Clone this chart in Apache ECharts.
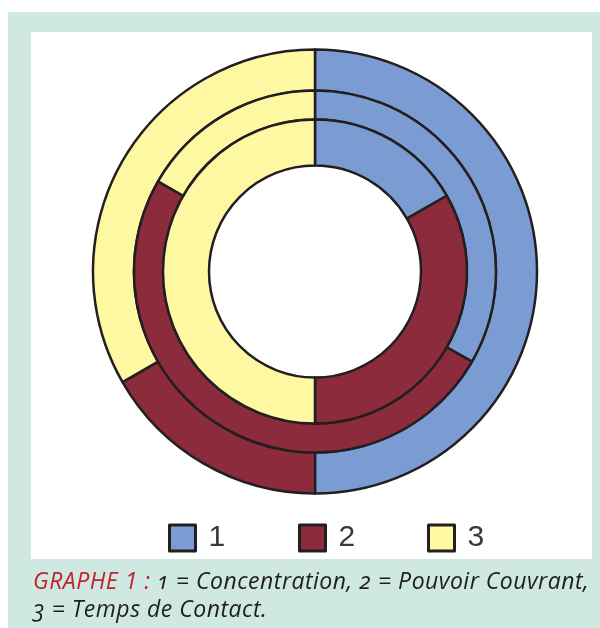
<!DOCTYPE html>
<html>
<head>
<meta charset="utf-8">
<script src="https://cdn.jsdelivr.net/npm/echarts@6/dist/echarts.min.js"></script>
<style>
  html, body { margin:0; padding:0; width:600px; height:628px; background:#ffffff; overflow:hidden; }
  #frame { position:absolute; left:8px; top:12px; width:592px; height:616px; background:#cfe9e2; }
  #panel { position:absolute; left:31px; top:32px; width:561px; height:527px; background:#ffffff; }
  #chart { position:absolute; left:0; top:0; width:600px; height:628px; }
  #caption { position:absolute; left:33px; top:566px; width:565px; font-family:"Open Sans", "Noto Sans", sans-serif; font-style:italic; font-weight:500; font-size:23px; letter-spacing:0.5px; line-height:28px; color:#1e1e1e; white-space:nowrap; font-variant-numeric: oldstyle-nums; }
  #caption .red { color:#c0232c; font-variant-numeric: normal; }
</style>
</head>
<body>
<div id="frame"></div>
<div id="panel"></div>
<div id="chart"></div>
<div id="caption"><span class="red">GRAPHE 1 :</span> 1 = Concentration, 2 = Pouvoir Couvrant,<br>3 = Temps de Contact.</div>
<script>
// Data
var categories = ['1', '2', '3'];
var ringNames = ['Concentration ring (outer)', 'Pouvoir Couvrant ring (middle)', 'Temps de Contact ring (inner)'];
var outerValues = [50, 16.7, 33.3];
var middleValues = [33.3, 50, 16.7];
var innerValues = [16.7, 33.3, 50];

var colors = ['#7b9bd3', '#8c2b3c', '#fff8a3'];
var center = [315, 271.5];
var radii = [[181, 222], [152, 181], [106, 152]];
var values = [outerValues, middleValues, innerValues];

var chart = echarts.init(document.getElementById('chart'), null, { renderer: 'canvas' });

var series = values.map(function (vals, i) {
  return {
    type: 'pie',
    name: ringNames[i],
    center: center,
    radius: radii[i],
    startAngle: 90,
    clockwise: true,
    silent: true,
    animation: false,
    label: { show: false },
    labelLine: { show: false },
    itemStyle: { borderColor: '#231f20', borderWidth: 2.5 },
    data: vals.map(function (v, j) {
      return { name: categories[j], value: v, itemStyle: { color: colors[j] } };
    })
  };
});

var legendLefts = [163, 293, 422];
var legends = categories.map(function (c, j) {
  return {
    data: [c],
    left: legendLefts[j],
    top: 518,
    orient: 'horizontal',
    icon: 'rect',
    itemWidth: 26,
    itemHeight: 26,
    selectedMode: false,
    itemStyle: { borderColor: '#231f20', borderWidth: 3 },
    textStyle: { fontSize: 30, color: '#3a3a3a', fontFamily: '"Liberation Sans", Arial, sans-serif', padding: [0, 0, 0, 8] }
  };
});

chart.setOption({
  backgroundColor: 'transparent',
  color: colors,
  animation: false,
  legend: legends,
  series: series
});
</script>
</body>
</html>
